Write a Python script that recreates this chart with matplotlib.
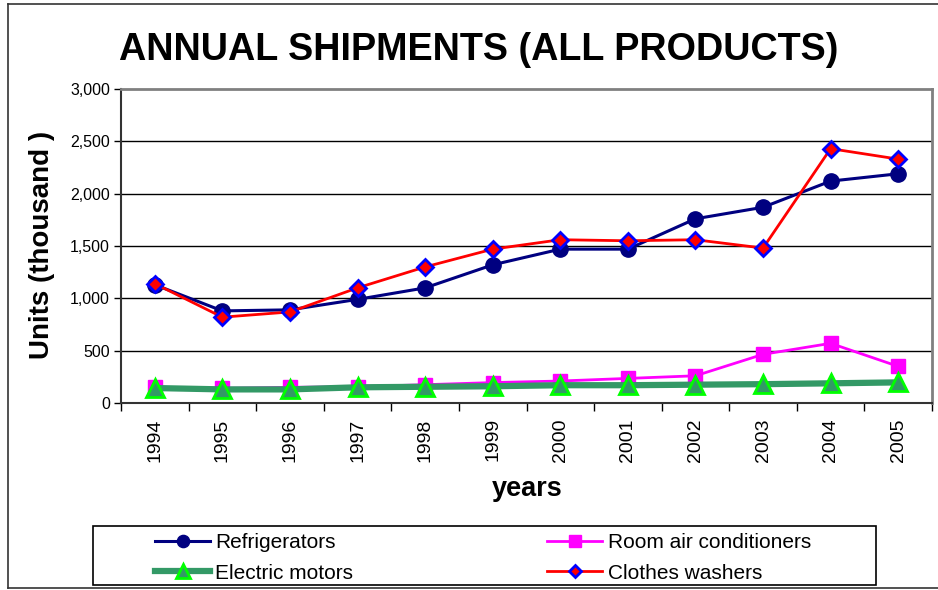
import matplotlib
matplotlib.use("Agg")
import matplotlib.pyplot as plt
from matplotlib.patches import Rectangle
from matplotlib.lines import Line2D
from matplotlib.ticker import FuncFormatter, FixedLocator, NullFormatter
import numpy as np

plt.rcParams['font.family'] = ['Liberation Sans', 'DejaVu Sans']

years = [1994, 1995, 1996, 1997, 1998, 1999, 2000, 2001, 2002, 2003, 2004, 2005]
refrigerators = [1130, 880, 890, 990, 1100, 1320, 1470, 1470, 1760, 1870, 2120, 2190]
room_ac = [150, 140, 150, 155, 175, 195, 210, 235, 260, 465, 570, 350]
electric_motors = [143, 130, 130, 150, 155, 160, 170, 170, 175, 180, 188, 197]
clothes_washers = [1140, 820, 870, 1100, 1300, 1470, 1560, 1550, 1560, 1480, 2430, 2330]
y_ticks = [0, 500, 1000, 1500, 2000, 2500, 3000]

W, H = 938, 590
fig = plt.figure(figsize=(W / 100, H / 100), dpi=100)

def fx(px):
    return px / W

def fy(py):
    return 1 - py / H

ax_l, ax_r, ax_t, ax_b = 121, 932, 89, 403
ax = fig.add_axes([fx(ax_l), fy(ax_b), fx(ax_r - ax_l), (ax_b - ax_t) / H])

x = np.arange(len(years))

ax.plot(x, refrigerators, color='#000080', lw=2.2, marker='o', ms=11,
        mfc='#000080', mec='#000080', label='Refrigerators', zorder=3)
ax.plot(x, room_ac, color='#FF00FF', lw=2.0, marker='s', ms=10,
        mfc='#FF00FF', mec='#FF00FF', label='Room air conditioners', zorder=3)
ax.plot(x, electric_motors, color='#339966', lw=4.5, marker='^', ms=13,
        mfc='#339966', mec='#00FF00', mew=2, label='Electric motors', zorder=4)
ax.plot(x, clothes_washers, color='#FF0000', lw=2.0, marker='D', ms=8,
        mfc='#FF0000', mec='#0000FF', mew=2, label='Clothes washers', zorder=5)

ax.set_xlim(-0.5, len(years) - 0.5)
ax.set_ylim(0, 3000)
ax.set_yticks(y_ticks)
ax.yaxis.set_major_formatter(FuncFormatter(lambda v, p: f"{int(v):,}"))
ax.tick_params(axis='y', direction='out', length=5, width=1, labelsize=11.5, pad=3, colors='#000000')

ax.xaxis.set_major_locator(FixedLocator(np.arange(-0.5, len(years), 1.0)))
ax.xaxis.set_major_formatter(NullFormatter())
ax.tick_params(axis='x', which='major', direction='out', length=6, width=1)
ax.set_xticks(x, minor=True)
ax.set_xticklabels([str(y) for y in years], minor=True, rotation=90, fontsize=14)
ax.tick_params(axis='x', which='minor', length=0, pad=11)

for v in y_ticks[1:-1]:
    ax.axhline(v, color='#000000', lw=1.0, zorder=1)

for s in ['left', 'bottom']:
    ax.spines[s].set_color('#333333')
    ax.spines[s].set_linewidth(1.5)
for s in ['right', 'top']:
    ax.spines[s].set_color('#808080')
    ax.spines[s].set_linewidth(2.0)

fig.text(fx(479), fy(50), 'ANNUAL SHIPMENTS (ALL PRODUCTS)', ha='center', va='center',
         fontsize=27.2, fontweight='bold')
fig.text(fx(42), fy(245), 'Units (thousand )', ha='center', va='center', rotation=90,
         fontsize=20, fontweight='bold')
fig.text(fx(527), fy(489), 'years', ha='center', va='center', fontsize=19.5, fontweight='bold')

# outer border
fig.add_artist(Line2D([fx(8), 1], [fy(4), fy(4)], color='#333333', lw=1.2))
fig.add_artist(Line2D([fx(8), fx(8)], [fy(4), fy(588)], color='#333333', lw=1.2))
fig.add_artist(Line2D([fx(8), 1], [fy(588), fy(588)], color='#333333', lw=1.2))

# legend box
fig.add_artist(Rectangle((fx(93), fy(585)), fx(876 - 93), (585 - 526) / H,
                         fill=False, edgecolor='#000000', lw=1.2))

handles, labels = ax.get_legend_handles_labels()
order = [0, 2, 1, 3]
leg = fig.legend([handles[i] for i in order], [labels[i] for i in order],
                 ncol=2, frameon=False, fontsize=15, markerscale=0.8,
                 loc='center left', bbox_to_anchor=(fx(155), fy(558)),
                 handlelength=2.65, handletextpad=0.25, columnspacing=9.3,
                 labelspacing=0.55, borderaxespad=0, borderpad=0)

fig.savefig('out.png', dpi=100)
